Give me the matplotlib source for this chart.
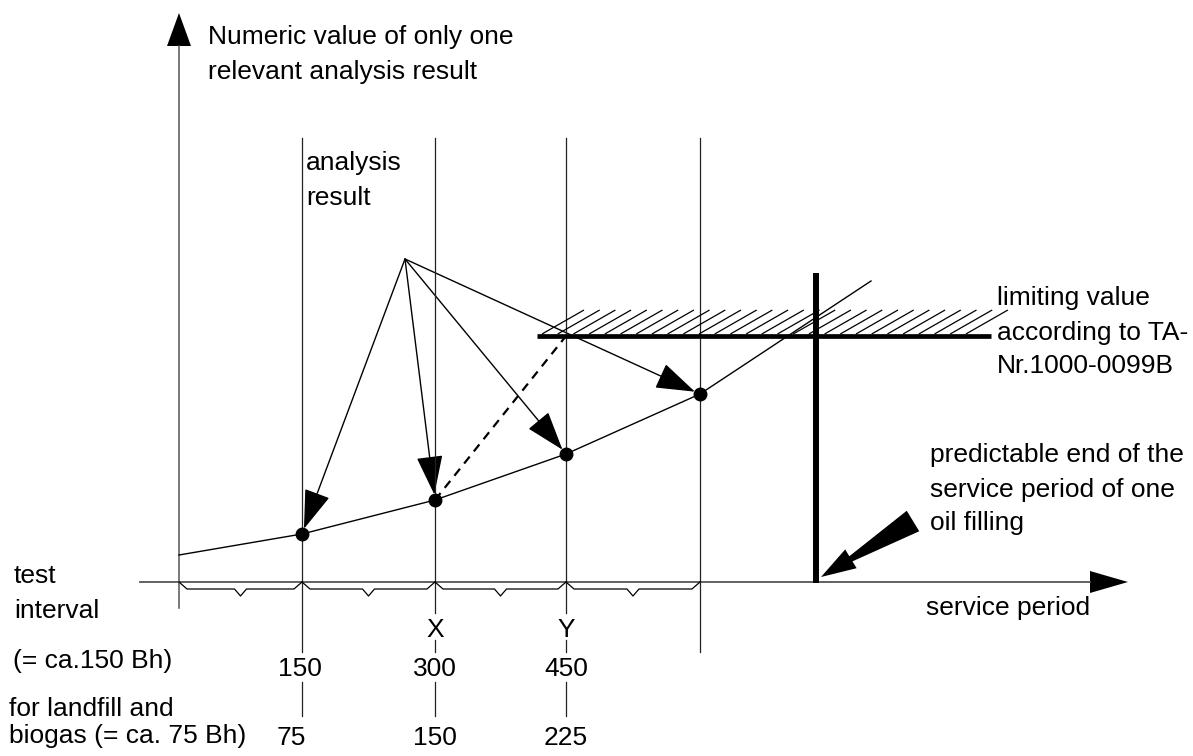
import numpy as np
import matplotlib.pyplot as plt
from matplotlib.patches import Polygon, FancyArrowPatch
from matplotlib.collections import LineCollection

plt.rcParams['font.family'] = ['Liberation Sans', 'DejaVu Sans']
FS = 19

# --- data (pixel space of the 1193x756 sketch, y grows downwards) ---
interval_x = [179, 302, 435, 566, 700]        # test points on the service period axis
result_y = [534, 500, 454, 394]                # analysis result at the test points
curve_x = [179, 302, 435, 566, 700, 871]
curve_y = [555, 534, 500, 454, 394, 281]
ticks_150 = ['150', '300', '450']
ticks_75 = ['75', '150', '225']
tick_marks = ['', 'X', 'Y']
fan_origin = (405, 259)
limit_y = 336
limit_x = (537, 991)
end_x = 816

fig = plt.figure(figsize=(11.93, 7.56), dpi=100)
ax = fig.add_axes([0, 0, 1, 1])
ax.set_xlim(0, 1193)
ax.set_ylim(756, 0)
ax.axis('off')

axis_y = 582
axis_c = '#555555'

# axes with arrows
ax.plot([179, 179], [608, 46], color=axis_c, lw=1.1)
ax.add_patch(Polygon([[179, 13], [167, 46], [191, 46]], closed=True, color='k', lw=0))
ax.plot([140, 1090], [axis_y, axis_y], color=axis_c, lw=1.3)
ax.add_patch(Polygon([[1128, axis_y], [1090, axis_y - 11], [1090, axis_y + 11]], closed=True, color='k', lw=0))

# vertical lines at the test points
check_x = interval_x[1:]
bottoms = [652, 613, 613, 652]
for x, b in zip(check_x, bottoms):
    ax.plot([x, x], [138, b], color='#222222', lw=0.9)

# braces under the axis
for a, b in zip(interval_x[:-1], interval_x[1:]):
    m = (a + b) / 2
    ax.plot([a, a + 8, m - 6, m, m + 6, b - 8, b],
            [axis_y, 589, 589, 596, 589, 589, axis_y], color='k', lw=0.9)

# tick labels under the axis
for i, x in enumerate(check_x[:3]):
    if tick_marks[i]:
        ax.text(x, 637, tick_marks[i], fontsize=FS, ha='center', va='baseline')
        ax.plot([x, x], [640, 652], color='#222222', lw=0.9)
    ax.text(x - 2 if i == 0 else x, 676, ticks_150[i], fontsize=FS, ha='center', va='baseline')
    ax.plot([x, x], [682, 716], color='#222222', lw=0.9)
    ax.text(x - 11 if i == 0 else x, 745, ticks_75[i], fontsize=FS, ha='center', va='baseline')

# trend curve and results
ax.plot(curve_x, curve_y, color='k', lw=1.0)
ax.plot(check_x, result_y, 'o', color='k', ms=9)

# fan of arrows from the label
for x, y in zip(check_x, result_y):
    ax.add_patch(FancyArrowPatch(fan_origin, (x, y),
                                 arrowstyle='-|>,head_length=1.25,head_width=0.42',
                                 mutation_scale=20, shrinkA=0, shrinkB=4,
                                 color='k', lw=1.0))

# extrapolation
ax.plot([check_x[1], check_x[2]], [result_y[1], limit_y], color='k', lw=1.6,
        linestyle=(0, (4, 3)))

# limiting value with hatching
ax.plot(limit_x, [limit_y, limit_y], color='k', lw=3.4, solid_capstyle='butt')
hx = np.arange(542, 980, 15.7)
segs = [[(h, limit_y - 2), (h + 42, limit_y - 26)] for h in hx]
ax.add_collection(LineCollection(segs, colors='k', linewidths=0.9))

# predictable end
ax.plot([end_x, end_x], [273, axis_y + 1], color='k', lw=4.3, solid_capstyle='butt')

tip = np.array([821.0, 577.0])
tail = np.array([913.0, 521.0])
u = (tip - tail) / np.linalg.norm(tip - tail)
n = np.array([-u[1], u[0]])
hb = tip - u * 35
big = [tip, hb + n * 11, hb + n * 3, tail + n * 12, tail - n * 12, hb - n * 3, hb - n * 11]
ax.add_patch(Polygon(big, closed=True, color='k', lw=0))

# texts
ax.text(208, 44, 'Numeric value of only one', fontsize=FS, va='baseline')
ax.text(208, 79, 'relevant analysis result', fontsize=FS, va='baseline')
ax.text(306, 170, 'analysis', fontsize=FS, va='baseline')
ax.text(306, 205, 'result', fontsize=FS, va='baseline')
for t, y in zip(['limiting value', 'according to TA-', 'Nr.1000-0099B'], [305, 340, 373]):
    ax.text(997, y, t, fontsize=FS, va='baseline')
for t, y in zip(['predictable end of the', 'service period of one', 'oil filling'], [462, 497, 530]):
    ax.text(930, y, t, fontsize=FS, va='baseline')
ax.text(926, 615, 'service period', fontsize=FS, va='baseline')
ax.text(14, 583, 'test', fontsize=FS, va='baseline')
ax.text(14, 618, 'interval', fontsize=FS, va='baseline')
ax.text(13, 668, '(= ca.150 Bh)', fontsize=FS, va='baseline')
ax.text(9, 716, 'for landfill and', fontsize=FS, va='baseline')
ax.text(9, 743, 'biogas (= ca. 75 Bh)', fontsize=FS, va='baseline')

fig.savefig('out.png', dpi=100)
